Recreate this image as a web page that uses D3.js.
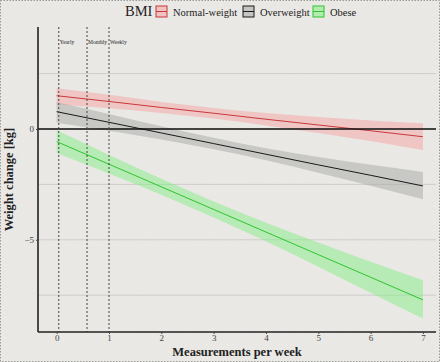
<!DOCTYPE html>
<html>
<head>
<meta charset="utf-8">
<script src="https://cdn.jsdelivr.net/npm/d3@7"></script>
<style>
  body { margin: 0; background: #ebeae7; }
  svg { display: block; }
  text { font-family: "Liberation Serif", "DejaVu Serif", serif; }
</style>
</head>
<body>
<div id="chart"></div>
<script>
// fitted lines + confidence ribbons
const xs = [0, 1, 2, 3, 4, 5, 6, 7];
const groups = ['Normal-weight', 'Overweight', 'Obese'];
const normalFit = [1.50, 1.24, 0.97, 0.71, 0.44, 0.18, -0.08, -0.35];
const normalLo  = [1.10, 0.94, 0.72, 0.47, 0.16, -0.18, -0.54, -0.95];
const normalHi  = [1.84, 1.54, 1.22, 0.95, 0.72, 0.54, 0.38, 0.26];
const overFit = [0.78, 0.30, -0.18, -0.66, -1.14, -1.62, -2.09, -2.57];
const overLo  = [0.28, -0.08, -0.48, -0.92, -1.41, -1.97, -2.56, -3.17];
const overHi  = [1.20, 0.68, 0.12, -0.40, -0.87, -1.27, -1.62, -1.94];
const obeseFit = [-0.57, -1.59, -2.61, -3.63, -4.65, -5.67, -6.69, -7.71];
const obeseLo  = [-1.08, -2.01, -2.97, -3.99, -5.07, -6.22, -7.39, -8.55];
const obeseHi  = [-0.06, -1.17, -2.25, -3.27, -4.23, -5.12, -5.99, -6.82];
const freqLabels = ['Yearly', 'Monthly', 'Weekly'];
const freqX = [0.04, 0.58, 1];
const xTicks = [0, 1, 2, 3, 4, 5, 6, 7];
const yTicks = [0, -5];
const yGrid = [2.5, 0, -2.5, -5, -7.5];

const W = 440, H = 362;
const margin = { top: 27, right: 4, bottom: 30, left: 38 };

const svg = d3.select('#chart').append('svg').attr('width', W).attr('height', H);

// paper texture
const defs = svg.append('defs');
const f = defs.append('filter').attr('id', 'paper').attr('x', 0).attr('y', 0).attr('width', '100%').attr('height', '100%');
f.append('feTurbulence').attr('type', 'fractalNoise').attr('baseFrequency', 0.9).attr('numOctaves', 2).attr('seed', 3);
f.append('feColorMatrix').attr('type', 'matrix')
  .attr('values', '0 0 0 0 0.45  0 0 0 0 0.45  0 0 0 0 0.43  0 0 0 0.18 0');
svg.append('rect').attr('width', W).attr('height', H).attr('fill', '#ebeae7');
svg.append('rect').attr('width', W).attr('height', H).attr('filter', 'url(#paper)').attr('opacity', 0.35);
svg.append('rect').attr('x', 0.5).attr('y', 0.5).attr('width', W - 1).attr('height', H - 1)
  .attr('fill', 'none').attr('stroke', '#9a9a96').attr('stroke-dasharray', '1.5,1.5');

const x = d3.scaleLinear().domain([-0.357, 7.25]).range([margin.left, W - margin.right]);
const y = d3.scaleLinear().domain([4.6, -9.16]).range([margin.top, H - margin.bottom]);

const colors = { 'Normal-weight': '#c8393b', 'Overweight': '#1a1a1a', 'Obese': '#2fc42f' };
const fills = { 'Normal-weight': '#f5a3a3', 'Overweight': '#a8a8a6', 'Obese': '#86ee86' };

// grid
svg.append('g').selectAll('line').data(yGrid).join('line')
  .attr('x1', x.range()[0]).attr('x2', x.range()[1])
  .attr('y1', d => y(d)).attr('y2', d => y(d))
  .attr('stroke', '#c8c7c3').attr('stroke-width', 0.8);

const series = [
  { key: 'Normal-weight', fit: normalFit, lo: normalLo, hi: normalHi },
  { key: 'Overweight', fit: overFit, lo: overLo, hi: overHi },
  { key: 'Obese', fit: obeseFit, lo: obeseLo, hi: obeseHi }
];

const area = d3.area().x(d => x(d.x)).y0(d => y(d.lo)).y1(d => y(d.hi)).curve(d3.curveMonotoneX);
const line = d3.line().x(d => x(d.x)).y(d => y(d.v));

series.forEach(s => {
  const pts = xs.map((v, i) => ({ x: v, lo: s.lo[i], hi: s.hi[i], v: s.fit[i] }));
  svg.append('path').datum(pts).attr('d', area).attr('fill', fills[s.key]).attr('opacity', 0.5);
});
series.forEach(s => {
  const pts = xs.map((v, i) => ({ x: v, v: s.fit[i] }));
  svg.append('path').datum(pts).attr('d', line).attr('fill', 'none')
    .attr('stroke', colors[s.key]).attr('stroke-width', 1);
});

// zero line
svg.append('line').attr('x1', x.range()[0]).attr('x2', x.range()[1])
  .attr('y1', y(0)).attr('y2', y(0)).attr('stroke', '#111').attr('stroke-width', 1.6);

// measurement frequency markers
freqX.forEach((v, i) => {
  svg.append('line').attr('x1', x(v)).attr('x2', x(v))
    .attr('y1', y.range()[0]).attr('y2', y.range()[1])
    .attr('stroke', '#444').attr('stroke-width', 1).attr('stroke-dasharray', '2,2');
  svg.append('text').attr('x', x(v) + 1).attr('y', 44)
    .attr('font-size', 5.5).attr('fill', '#222').text(freqLabels[i]);
});

// axes
const xAxis = svg.append('g').attr('transform', `translate(0,${y.range()[1]})`)
  .call(d3.axisBottom(x).tickValues(xTicks).tickSize(2).tickPadding(1));
const yAxis = svg.append('g').attr('transform', `translate(${x.range()[0]},0)`)
  .call(d3.axisLeft(y).tickValues(yTicks).tickSize(2).tickPadding(2));
[xAxis, yAxis].forEach(a => {
  a.select('.domain').attr('stroke', '#222').attr('stroke-width', 1.6);
  a.selectAll('.tick line').attr('stroke', '#444');
  a.selectAll('.tick text').attr('font-family', '"Liberation Serif", serif')
    .attr('font-size', 9).attr('fill', '#444');
});
yAxis.select('.domain').attr('d', `M0,${y.range()[0]}V${y.range()[1]}`);
xAxis.select('.domain').attr('d', `M${x.range()[0]},0H${x.range()[1]}`);

svg.append('text').attr('x', (x.range()[0] + x.range()[1]) / 2).attr('y', 356)
  .attr('text-anchor', 'middle').attr('font-size', 12.5).attr('font-weight', 'bold')
  .attr('fill', '#222').text('Measurements per week');
svg.append('text').attr('transform', `translate(13,${(y.range()[0] + y.range()[1]) / 2}) rotate(-90)`)
  .attr('text-anchor', 'middle').attr('font-size', 12.5).attr('font-weight', 'bold')
  .attr('fill', '#222').text('Weight change [kg]');

// legend
const legend = svg.append('g');
legend.append('text').attr('x', 125).attr('y', 16).attr('font-size', 14.5).attr('fill', '#222').text('BMI');
const keyX = [156, 243, 313];
groups.forEach((gname, i) => {
  const k = legend.append('g').attr('transform', `translate(${keyX[i]},6)`);
  k.append('rect').attr('width', 11).attr('height', 11)
    .attr('fill', fills[gname]).attr('fill-opacity', 0.55)
    .attr('stroke', colors[gname]).attr('stroke-width', 1);
  k.append('line').attr('x1', 0).attr('x2', 11).attr('y1', 5.5).attr('y2', 5.5)
    .attr('stroke', colors[gname]).attr('stroke-width', 1);
  k.append('text').attr('x', 17).attr('y', 9.5).attr('font-size', 10.5).attr('fill', '#222').text(gname);
});
</script>
</body>
</html>
